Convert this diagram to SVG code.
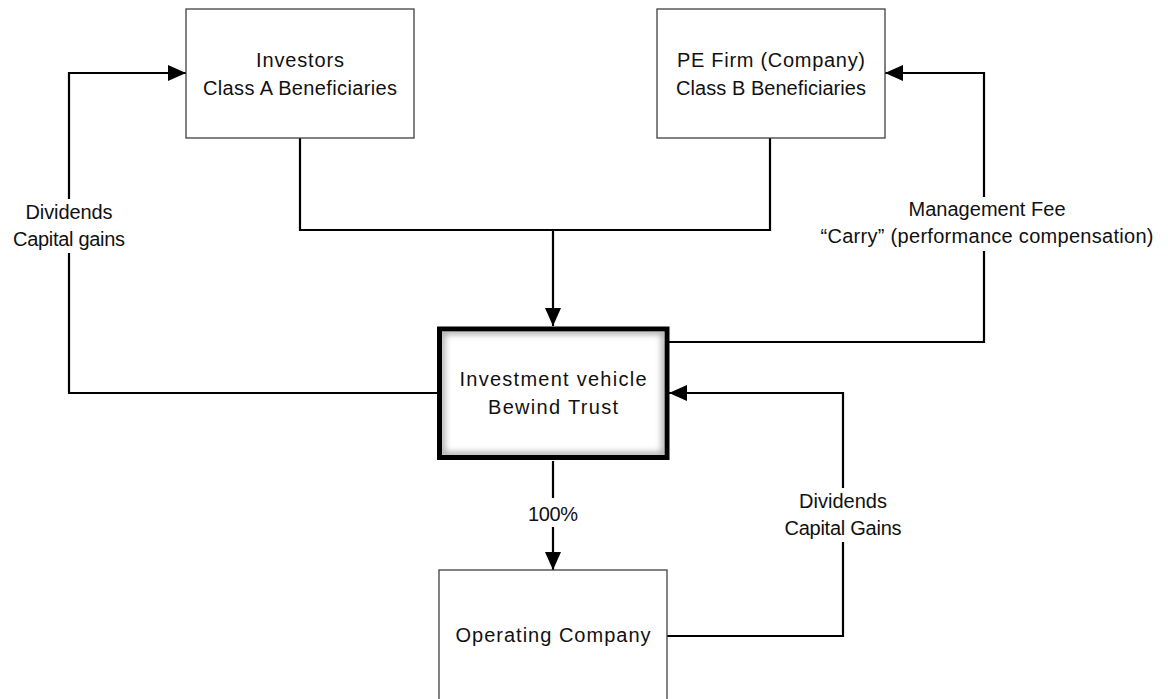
<svg xmlns="http://www.w3.org/2000/svg" width="1168" height="699" viewBox="0 0 1168 699">
  <style>
    .box { fill: #ffffff; stroke: #404040; stroke-width: 1.3; }
    .key { fill: #ffffff; stroke: #000000; stroke-width: 5; }
    .wire { fill: none; stroke: #000000; stroke-width: 2.2; }
    .lbl { font-family: "Liberation Sans", Arial, sans-serif; font-size: 20px; fill: #111111; text-anchor: middle; }
  </style>
  <defs>
    <marker id="arrow" viewBox="0 0 18 16" refX="18" refY="8" markerWidth="18" markerHeight="16" markerUnits="userSpaceOnUse" orient="auto">
      <path d="M0,0 L18,8 L0,16 Z" fill="#000000"/>
    </marker>
    <clipPath id="keyInside">
      <rect x="442" y="331.5" width="222.5" height="123.5"/>
    </clipPath>
    <filter id="soft" x="-10%" y="-10%" width="120%" height="120%">
      <feGaussianBlur stdDeviation="3"/>
    </filter>
  </defs>

  <!-- connectors -->
  <g id="connectors">
    <!-- both beneficiary classes feed the trust -->
    <path class="wire" d="M300,138 V230 H770 V138"/>
    <path class="wire" d="M553,230 V326" marker-end="url(#arrow)"/>
    <!-- trust pays Class A -->
    <path class="wire" d="M437,393 H69 V253"/>
    <path class="wire" d="M69,199 V73 H186" marker-end="url(#arrow)"/>
    <!-- trust pays PE firm -->
    <path class="wire" d="M669,342 H984 V251"/>
    <path class="wire" d="M984,197 V73 H885" marker-end="url(#arrow)"/>
    <!-- operating company pays trust -->
    <path class="wire" d="M667,636 H843 V542"/>
    <path class="wire" d="M843,488 V393 H669" marker-end="url(#arrow)"/>
    <!-- trust owns operating company -->
    <path class="wire" d="M553,461 V498"/>
    <path class="wire" d="M553,527 V570" marker-end="url(#arrow)"/>
  </g>

  <g id="investors">
    <rect class="box" x="186" y="9" width="228" height="129"/>
    <text class="lbl" x="300" y="67" textLength="88" lengthAdjust="spacing">Investors</text>
    <text class="lbl" x="300" y="95" textLength="194" lengthAdjust="spacing">Class A Beneficiaries</text>
  </g>

  <g id="pe-firm">
    <rect class="box" x="657" y="9" width="228" height="129"/>
    <text class="lbl" x="771" y="67" textLength="188" lengthAdjust="spacing">PE Firm (Company)</text>
    <text class="lbl" x="771" y="95" textLength="190" lengthAdjust="spacing">Class B Beneficiaries</text>
  </g>

  <g id="trust">
    <rect class="key" x="439.5" y="329" width="227.5" height="128.5"/>
    <g clip-path="url(#keyInside)">
      <rect x="442" y="331.5" width="222.5" height="123.5" fill="none" stroke="#9a9a9a" stroke-width="5" filter="url(#soft)"/>
    </g>
    <text class="lbl" x="553" y="386" textLength="187" lengthAdjust="spacing">Investment vehicle</text>
    <text class="lbl" x="553" y="414" textLength="130" lengthAdjust="spacing">Bewind Trust</text>
  </g>

  <g id="operating-company">
    <rect class="box" x="439" y="570" width="228" height="160"/>
    <text class="lbl" x="553" y="642" textLength="195" lengthAdjust="spacing">Operating Company</text>
  </g>

  <g id="labels">
    <text class="lbl" x="69" y="219" textLength="87" lengthAdjust="spacing">Dividends</text>
    <text class="lbl" x="69" y="246" textLength="112" lengthAdjust="spacing">Capital gains</text>
    <text class="lbl" x="987" y="216" textLength="157" lengthAdjust="spacing">Management Fee</text>
    <text class="lbl" x="987" y="243" textLength="333" lengthAdjust="spacing">“Carry” (performance compensation)</text>
    <text class="lbl" x="553" y="521" textLength="50" lengthAdjust="spacing">100%</text>
    <text class="lbl" x="843" y="508" textLength="88" lengthAdjust="spacing">Dividends</text>
    <text class="lbl" x="843" y="535" textLength="117" lengthAdjust="spacing">Capital Gains</text>
  </g>
</svg>
